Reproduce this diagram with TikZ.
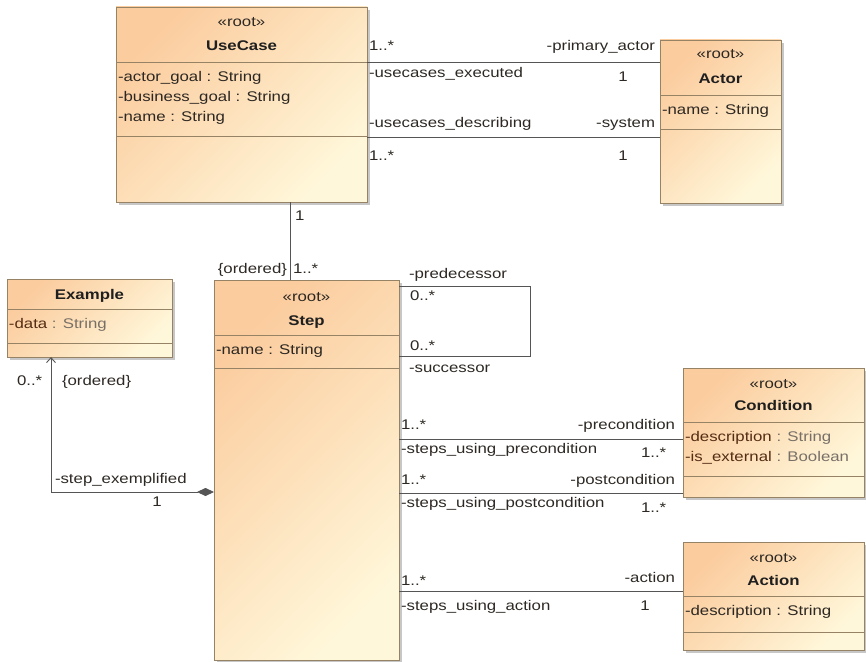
\documentclass[tikz,border=0pt]{standalone}
\usepackage{fontspec}
\setmainfont[FakeStretch=1.2]{Liberation Sans}
\usetikzlibrary{shadows,arrows.meta}

\definecolor{umlA}{RGB}{251,204,158}
\definecolor{umlB}{RGB}{255,247,218}
\definecolor{umlEdge}{RGB}{150,130,100}
\definecolor{umlText}{RGB}{45,40,35}
\definecolor{umlName}{RGB}{85,45,20}
\definecolor{umlType}{RGB}{120,112,104}
\definecolor{wireGrey}{RGB}{85,85,85}

\begin{document}
\begin{tikzpicture}[x=1pt,y=-1pt,
  every node/.style={inner sep=0pt,outer sep=0pt},
  txt/.style={font=\fontsize{14}{20}\selectfont,text=umlText},
  title/.style={font=\fontsize{14}{20}\selectfont\bfseries,text=black!88},
  classbox/.style={rectangle,draw=umlEdge,line width=0.9pt,
    top color=umlA,bottom color=umlB,shading angle=45,
    drop shadow={shadow xshift=3pt,shadow yshift=-3pt,fill=black,opacity=0.22}},
  divider/.style={draw=umlEdge,line width=0.9pt},
  wire/.style={draw=wireGrey,line width=0.9pt}]

\useasboundingbox (0,0) rectangle (866,661);

% ---------- classes ----------
% UseCase
\node[classbox,minimum width=251pt,minimum height=195pt] (uc) at (241.5,104.5) {};
\draw[divider] (116,62) -- (367,62);
\draw[divider] (116,136) -- (367,136);
\node[txt,anchor=base] (ucS) at (241.5,27) {«root»};
\node[title,anchor=base] (ucT) at (241.5,51) {UseCase};
\node[txt,anchor=base west] (ucA1) at (118,81) {-actor\_goal : String};
\node[txt,anchor=base west] (ucA2) at (118,101) {-business\_goal : String};
\node[txt,anchor=base west] (ucA3) at (118,121) {-name : String};

% Actor
\node[classbox,minimum width=121pt,minimum height=163pt] (actor) at (720.5,121.5) {};
\draw[divider] (660,95) -- (781,95);
\draw[divider] (660,129) -- (781,129);
\node[txt,anchor=base] (acS) at (720.5,59) {«root»};
\node[title,anchor=base] (acT) at (720.5,83) {Actor};
\node[txt,anchor=base west] (acA1) at (662,114) {-name : String};

% Step
\node[classbox,minimum width=185pt,minimum height=380pt] (step) at (306.5,470) {};
\draw[divider] (214,335) -- (399,335);
\draw[divider] (214,368) -- (399,368);
\node[txt,anchor=base] (stS) at (306.5,301) {«root»};
\node[title,anchor=base] (stT) at (306.5,325) {Step};
\node[txt,anchor=base west] (stA1) at (216,354) {-name : String};

% Example
\node[classbox,minimum width=165pt,minimum height=78pt] (ex) at (89.5,318) {};
\draw[divider] (7,309) -- (172,309);
\draw[divider] (7,343) -- (172,343);
\node[title,anchor=base] (exT) at (89.5,299) {Example};
\node[txt,anchor=base west] (exA1) at (9,328) {\textcolor{umlName}{-data} \textcolor{umlType}{: String}};

% Condition
\node[classbox,minimum width=181pt,minimum height=129pt] (cond) at (773.5,432.5) {};
\draw[divider] (683,422) -- (864,422);
\draw[divider] (683,476) -- (864,476);
\node[txt,anchor=base] (coS) at (773.5,388) {«root»};
\node[title,anchor=base] (coT) at (773.5,410) {Condition};
\node[txt,anchor=base west] (coA1) at (685,441) {\textcolor{umlName}{-description} \textcolor{umlType}{: String}};
\node[txt,anchor=base west] (coA2) at (685,461) {\textcolor{umlName}{-is\_external} \textcolor{umlType}{: Boolean}};

% Action
\node[classbox,minimum width=181pt,minimum height=108pt] (act) at (773.5,596) {};
\draw[divider] (683,596) -- (864,596);
\draw[divider] (683,632) -- (864,632);
\node[txt,anchor=base] (atS) at (773.5,562) {«root»};
\node[title,anchor=base] (atT) at (773.5,585) {Action};
\node[txt,anchor=base west] (atA1) at (685,615) {-description : String};

% ---------- associations ----------
\coordinate (yPA) at (0,62);
\coordinate (ySys) at (0,137);
\coordinate (xUS) at (290,0);
\coordinate (yPred) at (0,286);
\coordinate (ySucc) at (0,356);
\coordinate (xLoop) at (530,0);
\coordinate (yPre) at (0,439);
\coordinate (yPost) at (0,493);
\coordinate (yAct) at (0,591);
\coordinate (yComp) at (0,492);
\coordinate (xComp) at (51,0);

% UseCase -- Actor
\draw[wire] (yPA -| uc.east) -- (yPA -| actor.west);
\node[txt,anchor=base west] (m1) at (369,50) {1..*};
\node[txt,anchor=base east] (r1) at (655,50) {-primary\_actor};
\node[txt,anchor=base west] (r2) at (369,77) {-usecases\_executed};
\node[txt,anchor=base] (m2) at (623,81) {1};

\draw[wire] (ySys -| uc.east) -- (ySys -| actor.west);
\node[txt,anchor=base west] (r3) at (369,127) {-usecases\_describing};
\node[txt,anchor=base east] (r4) at (655,127) {-system};
\node[txt,anchor=base west] (m3) at (369,160) {1..*};
\node[txt,anchor=base] (m4) at (623,160) {1};

% UseCase -- Step
\draw[wire] (xUS |- uc.south) -- (xUS |- step.north);
\node[txt,anchor=base west] (m5) at (295,220) {1};
\node[txt,anchor=base east] (o1) at (287,273) {\{ordered\}};
\node[txt,anchor=base west] (m6) at (293,273) {1..*};

% Step -- Step
\draw[wire] (yPred -| step.east) -| (xLoop |- ySucc) -- (ySucc -| step.east);
\node[txt,anchor=base west] (r5) at (409,278) {-predecessor};
\node[txt,anchor=base west] (m7) at (410,300) {0..*};
\node[txt,anchor=base west] (m8) at (410,350) {0..*};
\node[txt,anchor=base west] (r6) at (409,372) {-successor};

% Step -- Example (composition)
\draw[wire,{Diamond[length=17pt,width=8pt,fill=wireGrey]}-{Straight Barb[length=5pt,width=9pt,line width=0.9pt]}]
  (yComp -| step.west) -| (xComp |- ex.south);
\node[txt,anchor=base west] (m9) at (17,385) {0..*};
\node[txt,anchor=base west] (o2) at (62,385) {\{ordered\}};
\node[txt,anchor=base west] (r7) at (55,483) {-step\_exemplified};
\node[txt,anchor=base] (m10) at (157,506) {1};

% Step -- Condition (precondition)
\draw[wire] (yPre -| step.east) -- (yPre -| cond.west);
\node[txt,anchor=base west] (m11) at (401,429) {1..*};
\node[txt,anchor=base east] (r8) at (675,429) {-precondition};
\node[txt,anchor=base west] (r9) at (401,453) {-steps\_using\_precondition};
\node[txt,anchor=base west] (m12) at (641,457) {1..*};

% Step -- Condition (postcondition)
\draw[wire] (yPost -| step.east) -- (yPost -| cond.west);
\node[txt,anchor=base west] (m13) at (401,484) {1..*};
\node[txt,anchor=base east] (r10) at (675,484) {-postcondition};
\node[txt,anchor=base west] (r11) at (401,507) {-steps\_using\_postcondition};
\node[txt,anchor=base west] (m14) at (641,512) {1..*};

% Step -- Action
\draw[wire] (yAct -| step.east) -- (yAct -| act.west);
\node[txt,anchor=base west] (m15) at (401,585) {1..*};
\node[txt,anchor=base east] (r12) at (675,582) {-action};
\node[txt,anchor=base west] (r13) at (401,610) {-steps\_using\_action};
\node[txt,anchor=base] (m16) at (645,610) {1};

\end{tikzpicture}
\end{document}
